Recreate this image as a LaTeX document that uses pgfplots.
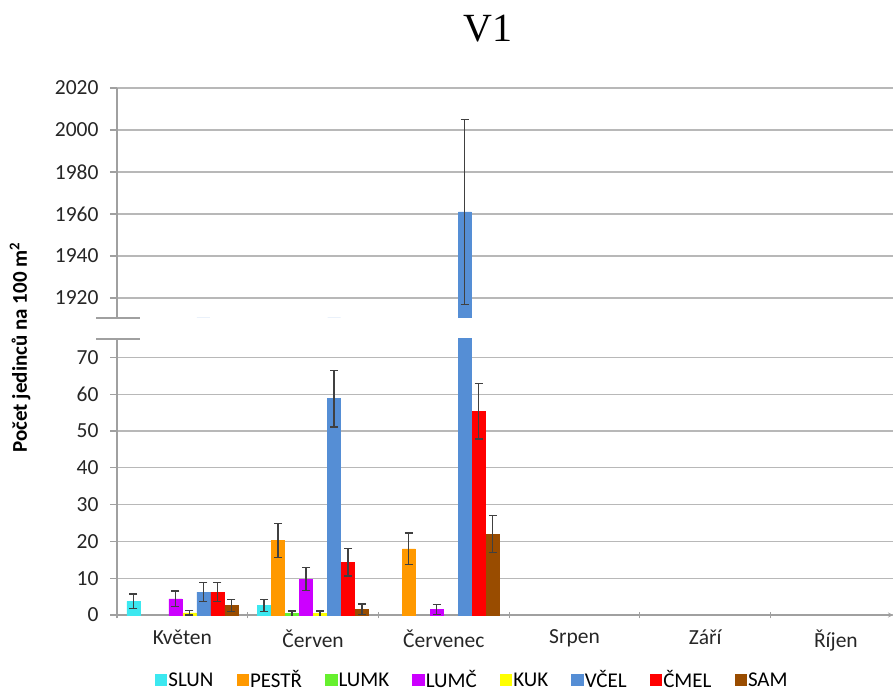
\documentclass[border=0pt]{standalone}
\usepackage{fontspec}
\setmainfont{Carlito}
\newfontfamily\titlefont{Liberation Serif}
\usepackage{pgfplots}
\usepackage{pgfplotstable}
\pgfplotsset{compat=1.18}

\definecolor{cSLUN}{HTML}{3CE8F0}
\definecolor{cPESTR}{HTML}{FF9900}
\definecolor{cLUMK}{HTML}{66F02E}
\definecolor{cLUMC}{HTML}{CC00FF}
\definecolor{cKUK}{HTML}{FFFF00}
\definecolor{cVCEL}{HTML}{558ED5}
\definecolor{cCMEL}{HTML}{FF0000}
\definecolor{cSAM}{HTML}{994C00}
\definecolor{gridc}{HTML}{B8B8B8}
\definecolor{axc}{HTML}{A0A0A0}
\definecolor{errc}{HTML}{404040}

% x: 0 Kveten, 1 Cerven, 2 Cervenec
\pgfplotstableread{
x slun eslun pestr epestr lumk elumk lumc elumc kuk ekuk vcel evcel cmel ecmel sam esam
0 3.7 2.0 nan nan nan nan 4.4 2.1 0.6 0.6 6.2 2.6 6.2 2.6 2.6 1.6
1 2.6 1.6 20.2 4.6 0.4 0.7 9.7 3.1 0.4 0.7 58.8 7.7 14.3 3.7 1.6 1.4
2 nan nan 18.0 4.3 nan nan 1.5 1.4 nan nan 1961 44 55.3 7.5 22.0 5.0
}\datatable

\pgfplotsset{
  brk/.style={
    scale only axis, width=776pt,
    xmin=-0.5, xmax=5.437,
    ybar, bar width=13pt,
    axis y line=left,
    axis line style={-, axc, line width=1.2pt},
    every outer y axis line/.append style={-},
    every outer x axis line/.append style={-},
    ymajorgrids, grid style={gridc, line width=1.2pt},
    tick align=outside, ytick pos=left,
    major tick length=7pt, minor tick length=7pt,
    tick style={axc, line width=1.2pt},
    ticklabel style={font=\fontsize{21.5}{25}\selectfont, black!85},
    yticklabel style={xshift=-8pt},
    /pgf/number format/assume math mode=true,
    /pgf/number format/1000 sep={},
    clip=true,
  },
  eb/.style={error bars/.cd, y dir=both, y explicit,
    error bar style={errc, line width=1.2pt},
    draw error bar/.code 2 args={%
      \draw[errc, line width=1.2pt, xshift=#1] ##1 -- ##2;
      \draw[errc, line width=1.2pt, xshift=#1] ##2 ++(-4pt,0pt) -- ++(8pt,0pt);
    }},
  bs/.style={fill=#1, draw=#1, line width=0.5pt},
}

\begin{document}
\begin{tikzpicture}
\path[use as bounding box] (0pt,0pt) rectangle (893pt,691pt);

% lower axis
\begin{axis}[brk, at={(117pt,76pt)}, anchor=south west, height=276pt,
  ymin=0, ymax=75, ytick={0,10,...,70},
  axis x line=bottom,
  xtick={0,...,5},
  xticklabels={Květen,Červen,Červenec,Srpen,Září,Říjen},
  major x tick style={draw=none},
  minor xtick={-0.5,0.5,...,4.5},
  xticklabel style={yshift=-8pt},
  legend style={at={(0.4575,-0.236)}, anchor=center, draw=none, fill=none,
    legend columns=-1, font=\fontsize{21}{24}\selectfont,
    nodes={inner sep=1.5pt},
    /tikz/every even column/.append style={column sep=21.5pt}},
  legend image code/.code={\fill[#1] (0pt,-5.5pt) rectangle (11.5pt,6pt);},
]
\addplot[bs=cSLUN, bar shift=-49pt, eb=-49pt] table[x=x, y=slun, y error=eslun]{\datatable};
\addplot[bs=cPESTR, bar shift=-35pt, eb=-35pt] table[x=x, y=pestr, y error=epestr]{\datatable};
\addplot[bs=cLUMK, bar shift=-21pt, eb=-21pt] table[x=x, y=lumk, y error=elumk]{\datatable};
\addplot[bs=cLUMC, bar shift=-7pt, eb=-7pt] table[x=x, y=lumc, y error=elumc]{\datatable};
\addplot[bs=cKUK, bar shift=7pt, eb=7pt] table[x=x, y=kuk, y error=ekuk]{\datatable};
\addplot[bs=cVCEL, bar shift=21pt, eb=21pt] table[x=x, y=vcel, y error=evcel]{\datatable};
\addplot[bs=cCMEL, bar shift=35pt, eb=35pt] table[x=x, y=cmel, y error=ecmel]{\datatable};
\addplot[bs=cSAM, bar shift=49pt, eb=49pt] table[x=x, y=sam, y error=esam]{\datatable};
\legend{SLUN,PESTŘ,LUMK,LUMČ,KUK,VČEL,ČMEL,SAM}
\end{axis}
\draw[axc, line width=1.2pt] (96pt,352pt) -- (140pt,352pt);

% upper axis
\begin{axis}[brk, at={(117pt,373pt)}, anchor=south west, height=230pt,
  ymin=1910.5, ymax=2020, ytick={1920,1940,...,2020},
  axis x line=none,
]
\addplot[bs=cVCEL, bar shift=21pt, eb=21pt] table[x=x, y=vcel, y error=evcel]{\datatable};
\end{axis}
\draw[axc, line width=1.2pt] (96pt,373pt) -- (140pt,373pt);

\node[anchor=base, font=\titlefont\fontsize{40}{44}\selectfont] at (488pt,649pt) {V1};
\node[rotate=90, font=\bfseries\fontsize{21}{24}\selectfont] at (20pt,343.5pt) {Počet jedinců na 100 m\textsuperscript{2}};
\end{tikzpicture}
\end{document}
